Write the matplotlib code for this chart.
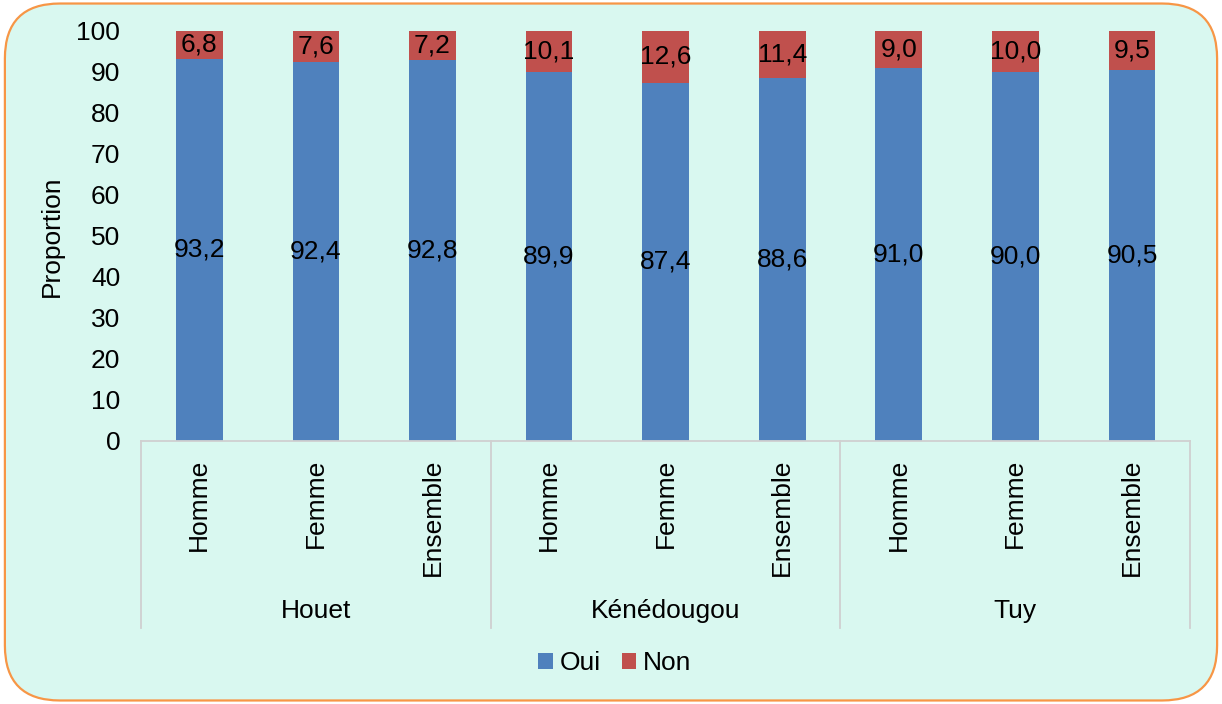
import numpy as np
import matplotlib.pyplot as plt
from matplotlib.patches import FancyBboxPatch
from matplotlib.transforms import blended_transform_factory

plt.rcParams['font.family'] = ['Liberation Sans', 'DejaVu Sans']

regions = ["Houet", "Kénédougou", "Tuy"]
sexes = ["Homme", "Femme", "Ensemble"]
oui = [93.2, 92.4, 92.8, 89.9, 87.4, 88.6, 91.0, 90.0, 90.5]
non = [6.8, 7.6, 7.2, 10.1, 12.6, 11.4, 9.0, 10.0, 9.5]

blue = "#4F81BD"
red = "#C0504D"
bg = "#D9F8F0"
fs = 19

fig = plt.figure(figsize=(12.22, 7.04), dpi=100)
fig.patch.set_facecolor("white")
frame = FancyBboxPatch((0.004, 0.005), 0.992, 0.99, boxstyle="round,pad=0,rounding_size=0.045",
                       transform=fig.transFigure, facecolor=bg, edgecolor="#F79646",
                       linewidth=1.6, mutation_aspect=1222 / 704, zorder=-10)
fig.patches.append(frame)

ax = fig.add_axes([0.1154, 0.3736, 0.8586, 0.5824])
ax.set_facecolor("none")

x = np.arange(len(oui))
ax.bar(x, oui, width=0.4, color=blue, label="Oui")
ax.bar(x, non, width=0.4, bottom=oui, color=red, label="Non")

fmt = lambda v: f"{v:.1f}".replace(".", ",")
for xi, o, n in zip(x, oui, non):
    ax.text(xi, o / 2, fmt(o), ha="center", va="center", fontsize=fs)
    ax.text(xi, o + n / 2, fmt(n), ha="center", va="center", fontsize=fs)

ax.set_xlim(-0.5, len(oui) - 0.5)
ax.set_ylim(0, 100)
ax.set_yticks(range(0, 101, 10))
ax.tick_params(axis="y", length=0, pad=15, labelsize=fs)
ax.set_xticks(x)
ax.set_xticklabels(sexes * len(regions), rotation=90, fontsize=fs)
ax.tick_params(axis="x", length=0, pad=13)
ax.set_ylabel("Proportion", fontsize=fs, labelpad=9)

for side in ["top", "right", "left"]:
    ax.spines[side].set_visible(False)
ax.spines["bottom"].set_color("#D0D0D0")
ax.spines["bottom"].set_linewidth(1.3)

# group separators and region labels below the axis
tr = blended_transform_factory(ax.transData, ax.transAxes)
for b in np.arange(-0.5, len(oui), 3):
    ax.plot([b, b], [0, -0.456], transform=tr, color="#D0D0D0", lw=1.3, clip_on=False)
for i, r in enumerate(regions):
    ax.text(3 * i + 1, -0.415, r, transform=tr, ha="center", va="center", fontsize=fs)

fig.legend(loc="center", bbox_to_anchor=(0.503, 0.058), ncol=2, frameon=False,
           fontsize=fs, handlelength=0.55, handleheight=0.55, handletextpad=0.25,
           columnspacing=0.8)

fig.savefig("out.png", dpi=100, facecolor=fig.get_facecolor())
